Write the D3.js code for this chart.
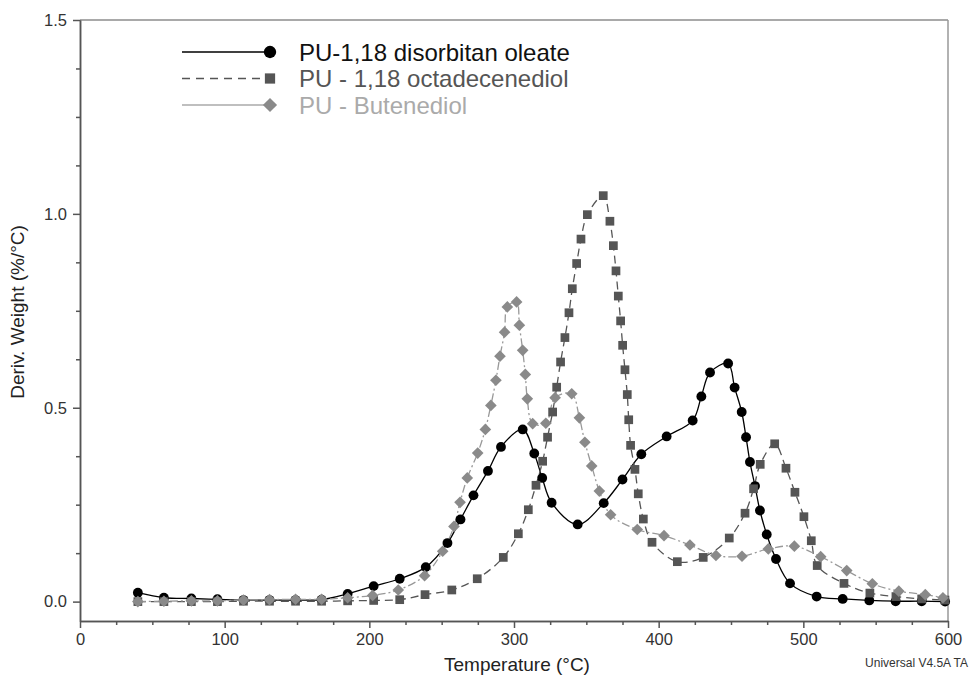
<!DOCTYPE html>
<head>
  <meta charset="utf-8">
  <script src="https://d3js.org/d3.v7.min.js"></script>
  <style>
    body { margin: 0; background: #fff; }
    text { font-family: "Liberation Sans", Arial, sans-serif; }
  </style>
</head>
<body>
  <script>
    // series names (legend)
    var seriesNames = ["PU-1,18 disorbitan oleate", "PU - 1,18 octadecenediol", "PU - Butenediol"];

    // PU-1,18 disorbitan oleate (circles)
    var oleateT = [40, 58, 77, 95, 113, 131, 149, 167, 185, 203, 221, 239, 254, 263, 272, 282, 291, 306, 314, 319.5, 326, 344, 362, 375, 388, 405.5, 423.5, 429.5, 435.5, 448, 452.5, 457.4, 460.4, 463.1, 466.6, 470, 474.7, 481.1, 490.8, 509.2, 527.2, 545.6, 563.8, 581.8, 598];
    var oleateV = [0.023, 0.010, 0.008, 0.006, 0.004, 0.004, 0.004, 0.005, 0.020, 0.040, 0.059, 0.089, 0.151, 0.212, 0.274, 0.337, 0.399, 0.444, 0.382, 0.319, 0.255, 0.199, 0.254, 0.315, 0.380, 0.426, 0.467, 0.529, 0.591, 0.614, 0.552, 0.489, 0.424, 0.360, 0.298, 0.235, 0.173, 0.110, 0.047, 0.013, 0.007, 0.003, 0.001, 0.001, 0.000];

    // PU - 1,18 octadecenediol (squares)
    var octaT = [40, 58, 77, 95, 113, 131, 149, 167, 185, 203, 221, 238.5, 257, 274.6, 292.6, 303, 309.9, 315.2, 319.8, 323.2, 326.7, 329.5, 332.2, 335.2, 338, 340.3, 343.3, 346.3, 350.7, 361.7, 366.3, 368.7, 370.5, 372.1, 373.7, 375.1, 376.7, 378.3, 379.3, 380.6, 383.6, 385.9, 389.4, 395.4, 412.9, 430.8, 448.8, 459.7, 465.6, 470.2, 480.2, 488, 494.2, 500.4, 505.5, 509.6, 528.1, 546, 564, 581.8, 597.9];
    var octaV = [0.000, 0.000, 0.000, 0.000, 0.001, 0.001, 0.001, 0.001, 0.002, 0.003, 0.005, 0.018, 0.030, 0.059, 0.114, 0.175, 0.237, 0.300, 0.362, 0.424, 0.489, 0.553, 0.618, 0.681, 0.745, 0.807, 0.872, 0.935, 0.998, 1.047, 0.981, 0.918, 0.853, 0.788, 0.724, 0.661, 0.598, 0.534, 0.469, 0.403, 0.341, 0.278, 0.213, 0.153, 0.103, 0.114, 0.164, 0.228, 0.291, 0.354, 0.407, 0.344, 0.282, 0.219, 0.157, 0.093, 0.047, 0.022, 0.013, 0.007, 0.004];

    // PU - Butenediol (diamonds)
    var buteT = [40, 58, 77, 95, 113, 131, 149, 167, 185, 202.3, 220, 238.2, 250.7, 258.5, 262.7, 267.7, 274.9, 280.2, 284, 287.5, 290.3, 293.5, 295.4, 301.8, 303.7, 306, 307.8, 309.2, 312.9, 322, 328.4, 339.9, 345.2, 349, 353.7, 359, 366.8, 385.2, 403.7, 421.6, 439.6, 457.6, 475.8, 493.8, 512, 530, 547.7, 566, 584.3, 596.5];
    var buteV = [0.000, 0.001, 0.002, 0.002, 0.004, 0.005, 0.006, 0.006, 0.010, 0.016, 0.030, 0.067, 0.130, 0.194, 0.256, 0.319, 0.383, 0.444, 0.506, 0.571, 0.633, 0.695, 0.760, 0.773, 0.713, 0.648, 0.586, 0.523, 0.459, 0.460, 0.526, 0.536, 0.474, 0.411, 0.350, 0.285, 0.224, 0.186, 0.170, 0.146, 0.119, 0.117, 0.136, 0.143, 0.116, 0.080, 0.046, 0.027, 0.018, 0.010];

    // axis ticks
    var xMajor = [0, 100, 200, 300, 400, 500, 600];
    var xMinor = d3.range(25, 600, 25).filter(function(d) { return d % 100 !== 0; });
    var yMajor = [0, 0.5, 1.0, 1.5];
    var yMinor = [0.125, 0.25, 0.375, 0.625, 0.75, 0.875, 1.125, 1.25, 1.375];

    var width = 970, height = 676;
    var margin = {top: 20, right: 22, bottom: 55, left: 80};

    var svg = d3.select("body").append("svg")
      .attr("width", width)
      .attr("height", height);

    var x = d3.scaleLinear()
              .domain([0, 600])
              .range([margin.left, width - margin.right]);

    var y = d3.scaleLinear()
              .domain([-0.05, 1.5])
              .range([height - margin.bottom, margin.top]);

    var axisColor = "#555";

    // frame (top and right)
    svg.append("line")
      .attr("x1", x(0)).attr("x2", x(600))
      .attr("y1", y(1.5)).attr("y2", y(1.5))
      .attr("stroke", axisColor).attr("stroke-width", 1.2);
    svg.append("line")
      .attr("x1", x(600)).attr("x2", x(600))
      .attr("y1", y(1.5)).attr("y2", y(-0.05))
      .attr("stroke", "#999").attr("stroke-width", 1.5);

    // minor ticks
    svg.append("g")
      .attr("transform", "translate(0," + y(-0.05) + ")")
      .call(d3.axisBottom(x).tickValues(xMinor).tickSize(4).tickSizeOuter(0).tickFormat(""));
    svg.append("g")
      .attr("transform", "translate(" + x(0) + ",0)")
      .call(d3.axisLeft(y).tickValues(yMinor).tickSize(4).tickSizeOuter(0).tickFormat(""));

    // add the x Axis
    svg.append("g")
      .attr("class", "axis")
      .attr("transform", "translate(0," + y(-0.05) + ")")
      .call(d3.axisBottom(x).tickValues(xMajor).tickSize(7).tickSizeOuter(0).tickPadding(5));

    // add the y Axis
    svg.append("g")
      .attr("class", "axis")
      .attr("transform", "translate(" + x(0) + ",0)")
      .call(d3.axisLeft(y).tickValues(yMajor).tickSize(7).tickSizeOuter(0).tickPadding(6)
        .tickFormat(d3.format(".1f")));

    svg.selectAll(".domain, .tick line")
      .attr("stroke", axisColor)
      .attr("stroke-width", 1.5);
    svg.selectAll(".axis text")
      .attr("fill", "#333")
      .style("font-size", "16.5px");

    // axis titles
    svg.append("text")
      .attr("x", 517).attr("y", 671)
      .attr("text-anchor", "middle")
      .attr("fill", "#222")
      .style("font-size", "19px")
      .text("Temperature (°C)");

    svg.append("text")
      .attr("transform", "translate(24," + 312 + ") rotate(-90)")
      .attr("text-anchor", "middle")
      .attr("fill", "#222")
      .style("font-size", "19px")
      .text("Deriv. Weight (%/°C)");

    svg.append("text")
      .attr("x", 968).attr("y", 667)
      .attr("text-anchor", "end")
      .attr("fill", "#333")
      .style("font-size", "12px")
      .text("Universal V4.5A TA");

    // series
    var series = [
      {name: seriesNames[0], t: oleateT, v: oleateV, line: "#000", dash: null, mark: "#000", shape: d3.symbolCircle, size: 76, rot: 0, legendSize: 120, text: "#111"},
      {name: seriesNames[1], t: octaT, v: octaV, line: "#555", dash: "8,5", mark: "#555", shape: d3.symbolSquare, size: 76, rot: 0, legendSize: 105, text: "#555"},
      {name: seriesNames[2], t: buteT, v: buteV, line: "#999", dash: "8,3,2,3", mark: "#8a8a8a", shape: d3.symbolSquare, size: 68, rot: 45, legendSize: 100, text: "#aaa"}
    ];

    var line = d3.line()
      .x(function(d) { return x(d[0]); })
      .y(function(d) { return y(d[1]); })
      .curve(d3.curveCatmullRom.alpha(0.5));

    // draw lines first, then markers on top
    series.forEach(function(s) {
      var pts = s.t.map(function(t, i) { return [t, s.v[i]]; });
      svg.append("path")
        .datum(pts)
        .attr("fill", "none")
        .attr("stroke", s.line)
        .attr("stroke-width", 1.3)
        .attr("stroke-dasharray", s.dash)
        .attr("d", line);
    });

    series.forEach(function(s) {
      var pts = s.t.map(function(t, i) { return [t, s.v[i]]; });
      svg.append("g").selectAll("path").data(pts)
        .enter().append("path")
          .attr("d", d3.symbol().type(s.shape).size(s.size))
          .attr("transform", function(d) {
            return "translate(" + x(d[0]) + "," + y(d[1]) + ") rotate(" + s.rot + ")";
          })
          .attr("fill", s.mark);
    });

    // legend
    var legend = svg.append("g");
    series.forEach(function(s, i) {
      var ly = 52 + i * 26.5;
      legend.append("line")
        .attr("x1", 182).attr("x2", 268)
        .attr("y1", ly).attr("y2", ly)
        .attr("stroke", i === 2 ? "#aaa" : s.line)
        .attr("stroke-width", 1.5)
        .attr("stroke-dasharray", i === 1 ? "8,6" : null);
      legend.append("path")
        .attr("d", d3.symbol().type(s.shape).size(s.legendSize))
        .attr("transform", "translate(270," + ly + ") rotate(" + s.rot + ")")
        .attr("fill", s.mark);
      legend.append("text")
        .attr("x", 299).attr("y", ly)
        .attr("dy", "0.36em")
        .attr("fill", s.text)
        .style("font-size", "24px")
        .text(s.name);
    });
  </script>
</body>
